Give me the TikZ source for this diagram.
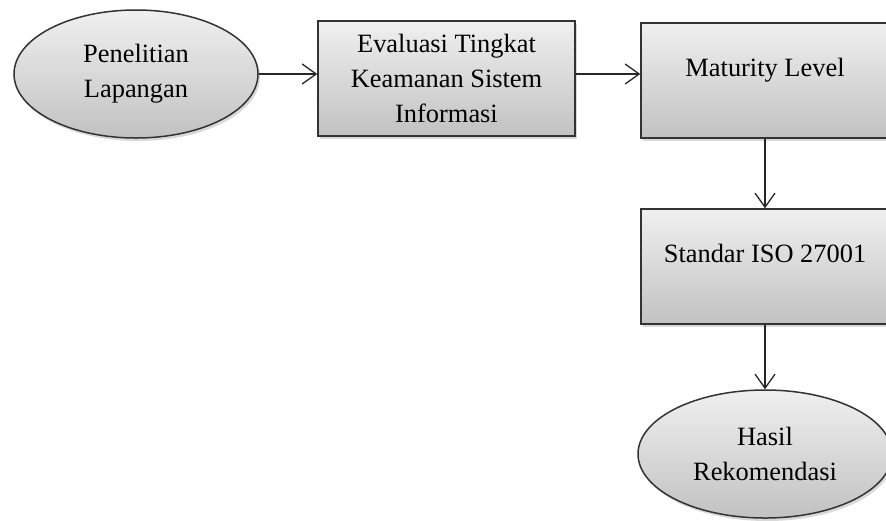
\documentclass[tikz,border=0pt]{standalone}
\usepackage{fontspec}
\setmainfont{Liberation Serif}
\usetikzlibrary{shapes.geometric,shadows,arrows.meta}
\tikzset{
  shape common/.style={draw=black!80, line width=0.75pt, top color=gray!12, bottom color=gray!48,
    drop shadow={shadow xshift=1pt, shadow yshift=-1.5pt, opacity=0.3},
    align=center, font=\fontsize{13.2}{17.5}\selectfont},
  block/.style={shape common, rectangle, minimum width=124pt, minimum height=57.5pt},
  oval/.style={shape common, ellipse, inner sep=0pt},
  flow/.style={draw=black!85, line width=0.65pt, -{Straight Barb[length=7pt,width=10pt]}}
}
\begin{document}
\begin{tikzpicture}[x=0.5pt, y=-0.5pt]
        \useasboundingbox (0, 0) rectangle (886, 520);
        % upper row
        \node[oval, minimum width=122pt, minimum height=64pt] (riset) at (136, 74) {Penelitian\\Lapangan};
        \node[block, minimum width=128.5pt] (evaluasi) at (446.5, 78.5) {Evaluasi Tingkat\\Keamanan Sistem\\Informasi};
        \node[block] (maturity) at (765, 80.5) {\raisebox{13.5pt}{Maturity Level}};
        % right column
        \node[block] (iso) at (765, 266.5) {\raisebox{13.5pt}{Standar ISO 27001}};
        \node[oval, minimum width=127pt, minimum height=64pt] (hasil) at (765, 454) {Hasil\\Rekomendasi};
        \draw[flow] (riset.east) -- (riset.east -| evaluasi.west);
        \draw[flow] (evaluasi.east |- riset.east) -- (maturity.west |- riset.east);
        \draw[flow] (maturity.south) -- (iso.north);
        \draw[flow] (iso.south) -- (hasil.north);
      \end{tikzpicture}
\end{document}
